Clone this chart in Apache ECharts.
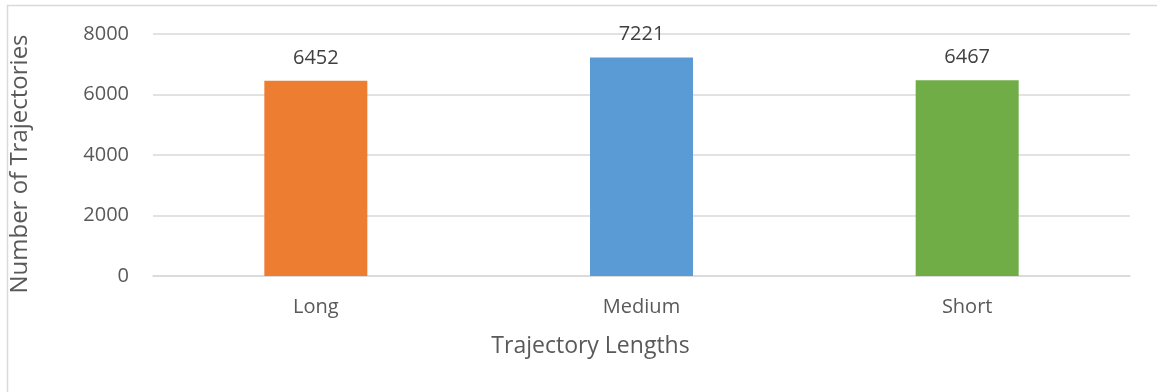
<!DOCTYPE html>
<html>
<head>
<meta charset="utf-8">
<script src="https://cdn.jsdelivr.net/npm/echarts@6/dist/echarts.min.js"></script>
<style>
  html, body { margin: 0; padding: 0; background: #fff; }
  #chart { width: 1157px; height: 392px; }
</style>
</head>
<body>
<div id="chart"></div>
<script>
const categories = ['Long', 'Medium', 'Short'];
const counts = [6452, 7221, 6467];
const barColors = ['#ED7D31', '#5B9BD5', '#70AD47'];

const font = '"Open Sans", "Noto Sans", sans-serif';
const textColor = '#595959';

const myChart = echarts.init(document.getElementById('chart'));
const option = {
  backgroundColor: '#fff',
  animation: false,
  graphic: [{
    type: 'rect',
    shape: { x: 7.5, y: 5.5, width: 1160, height: 400 },
    style: { fill: 'none', stroke: '#d9d9d9', lineWidth: 1.5 },
    silent: true
  }],
  grid: { left: 151, right: 27, top: 34, bottom: 116 },
  xAxis: {
    type: 'category',
    data: categories,
    name: 'Trajectory Lengths',
    nameLocation: 'middle',
    nameGap: 59,
    nameTextStyle: { fontFamily: font, fontSize: 23, color: textColor, padding: [0, 102, 0, 0] },
    axisLine: { show: true, lineStyle: { color: '#d9d9d9', width: 1.5 } },
    axisTick: { show: false },
    axisLabel: { fontFamily: font, fontSize: 20, color: textColor, margin: 21 }
  },
  yAxis: {
    type: 'value',
    min: 0,
    max: 8000,
    interval: 2000,
    name: 'Number of Trajectories',
    nameLocation: 'middle',
    nameGap: 121,
    nameTextStyle: { fontFamily: font, fontSize: 24, color: textColor, padding: [0, 18, 0, 0] },
    axisLine: { show: false },
    axisTick: { show: false },
    axisLabel: { fontFamily: font, fontSize: 20, color: textColor, margin: 24, formatter: v => String(v) },
    splitLine: { lineStyle: { color: '#d9d9d9', width: 1.5 } }
  },
  series: [{
    type: 'bar',
    barWidth: 103,
    data: counts.map((v, i) => ({ value: v, itemStyle: { color: barColors[i] } })),
    label: {
      show: true,
      position: 'top',
      distance: 13,
      fontFamily: font,
      fontSize: 20,
      color: '#404040'
    }
  }]
};
myChart.setOption(option, true);
window.addEventListener('resize', function () {
  myChart.resize();
});
</script>
</body>
</html>
